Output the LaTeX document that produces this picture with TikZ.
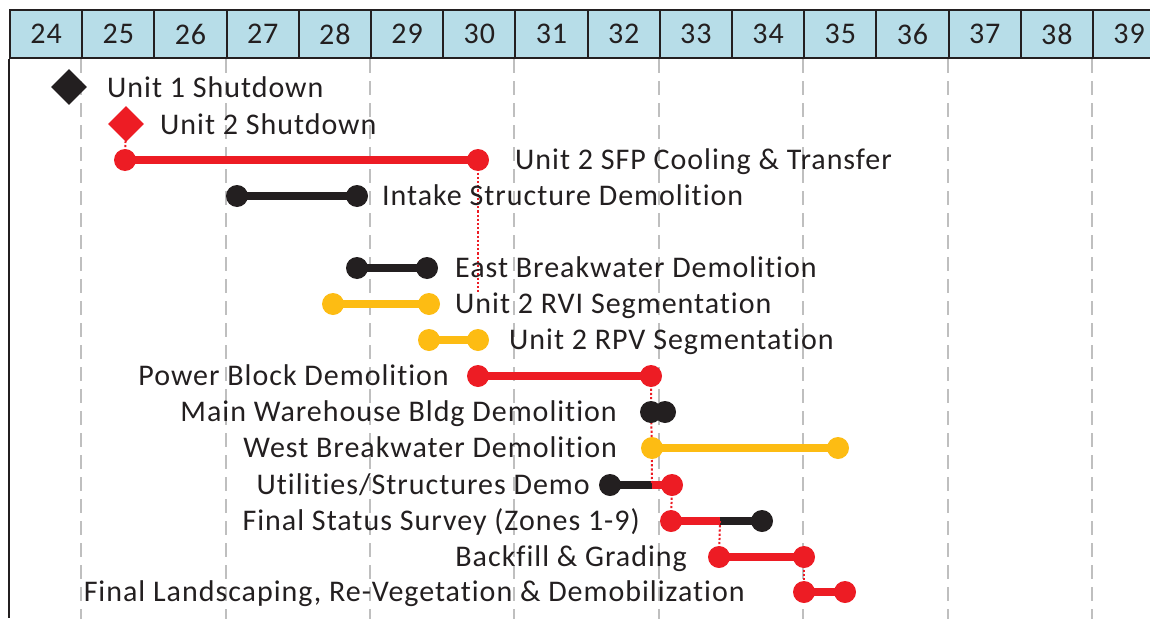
\documentclass[tikz,border=0pt]{standalone}
\usepackage{fontspec}
\setmainfont{Carlito}[LetterSpace=3.3, Ligatures=NoCommon, RawFeature={-liga;-dlig}]
\usetikzlibrary{shapes.geometric,backgrounds}
\definecolor{hdr}{HTML}{B7DDE8}
\definecolor{ink}{HTML}{231F20}
\definecolor{cred}{HTML}{ED1C24}
\definecolor{cyel}{HTML}{FDBC13}
\definecolor{cgray}{HTML}{BFBFBF}
\begin{document}
\begin{tikzpicture}[x=1pt,y=-1pt,
  lbl/.style={font=\fontsize{30}{36}\selectfont, text=ink, inner sep=0pt,
              text height=22pt, text depth=2.6pt},
  week/.style={draw=ink, line width=2pt, fill=hdr, minimum width=72.2pt,
               minimum height=48pt, inner sep=0pt, anchor=north west,
               text=ink, font=\fontsize{30}{36}\selectfont},
  dot/.style={circle, fill=#1, inner sep=0pt, minimum size=22pt},
  bar/.style={line width=7.5pt, draw=#1},
  link/.style={draw=cred, line width=2pt, dash pattern=on 2.2pt off 2pt},
  gridline/.style={draw=cgray, line width=2pt, dash pattern=on 14pt off 8pt},
  ms/.style={diamond, aspect=1, fill=#1, inner sep=0pt, minimum size=36pt},
]
\useasboundingbox (0,0) rectangle (1150,618);
\clip (0,0) rectangle (1150,618);

% week header
\foreach \w [count=\i from 0] in {24,...,39}
  \node[week] (h\w) at ({9+72.2*\i},9) {\w};

% dashed week lines and left frame
\begin{pgfonlayer}{background}
  \foreach \w in {25,27,...,39}
    \draw[gridline] (h\w.south west) -- ++(0,561);
\end{pgfonlayer}
\draw[ink, line width=2pt] (h24.south west) -- (9,618);

% milestones
\node[ms=ink]  (m1) at (69,87)  {};
\node[lbl, anchor=west] (l1) at (107,88) {Unit 1 Shutdown};
\node[ms=cred] (m2) at (126,124) {};
\node[lbl, anchor=west] (l2) at (160,125) {Unit 2 Shutdown};

% activity end points
\node[dot=cred] (sfpA) at (125,160) {};
\node[dot=cred] (sfpB) at (478,160) {};
\node[dot=ink]  (intA) at (237,196) {};
\node[dot=ink]  (intB) at (357,196) {};
\node[dot=ink]  (ebwA) at (357,268) {};
\node[dot=ink]  (ebwB) at (427,268) {};
\node[dot=cyel] (rviA) at (333,304) {};
\node[dot=cyel] (rviB) at (429,304) {};
\node[dot=cyel] (rpvA) at (429,340) {};
\node[dot=cyel] (rpvB) at (478,340) {};
\node[dot=cred] (pbA)  at (478,376) {};
\node[dot=cred] (pbB)  at (651,376) {};
\node[dot=ink]  (mwA)  at (651,412) {};
\node[dot=ink]  (mwB)  at (665,412) {};
\node[dot=cyel] (wbwA) at (652,448) {};
\node[dot=cyel] (wbwB) at (838,448) {};
\node[dot=ink]  (utA)  at (610,485) {};
\coordinate     (utM)  at (652,485);
\node[dot=cred] (utB)  at (672,485) {};
\node[dot=cred] (fsA)  at (671,521) {};
\coordinate     (fsM)  at (720,521);
\node[dot=ink]  (fsB)  at (762,521) {};
\node[dot=cred] (bfA)  at (719,557) {};
\node[dot=cred] (bfB)  at (804,557) {};
\node[dot=cred] (lsA)  at (804,592) {};
\node[dot=cred] (lsB)  at (845,592) {};
\coordinate (sfpDrop) at (478,292);

% bars and dependency links, behind the end points
\begin{pgfonlayer}{background}
  \draw[bar=cred] (sfpA.center) -- (sfpB.center);
  \draw[bar=ink]  (intA.center) -- (intB.center);
  \draw[bar=ink]  (ebwA.center) -- (ebwB.center);
  \draw[bar=cyel] (rviA.center) -- (rviB.center);
  \draw[bar=cyel] (rpvA.center) -- (rpvB.center);
  \draw[bar=cred] (pbA.center)  -- (pbB.center);
  \draw[bar=ink]  (mwA.center)  -- (mwB.center);
  \draw[bar=cyel] (wbwA.center) -- (wbwB.center);
  \draw[bar=ink]  (utA.center)  -- (utM);
  \draw[bar=cred] (utM)         -- (utB.center);
  \draw[bar=cred] (fsA.center)  -- (fsM);
  \draw[bar=ink]  (fsM)         -- (fsB.center);
  \draw[bar=cred] (bfA.center)  -- (bfB.center);
  \draw[bar=cred] (lsA.center)  -- (lsB.center);

  \draw[link] (m2.center)   -- (sfpA.center);
  \draw[link] (sfpB.center) -- (sfpDrop);
  \draw[link] (pbB.center)  -- (utM);
  \draw[link] (utB.center)  -- (fsA.center);
  \draw[link] (fsM)         -- (bfA.center);
  \draw[link] (bfB.center)  -- (lsA.center);
\end{pgfonlayer}

% activity labels
\node[lbl, anchor=west] (lsfp) at (515,160) {Unit 2 SFP Cooling \& Transfer};
\node[lbl, anchor=west] (lint) at (382,196) {Intake Structure Demolition};
\node[lbl, anchor=west] (lebw) at (455,268) {East Breakwater Demolition};
\node[lbl, anchor=west] (lrvi) at (455,304) {Unit 2 RVI Segmentation};
\node[lbl, anchor=west] (lrpv) at (509,340) {Unit 2 RPV Segmentation};
\node[lbl, anchor=east] (lpb)  at (449,376) {Power Block Demolition};
\node[lbl, anchor=east] (lmw)  at (617,412) {Main Warehouse Bldg Demolition};
\node[lbl, anchor=east] (lwbw) at (617,448) {West Breakwater Demolition};
\node[lbl, anchor=east] (lut)  at (590,485) {Utilities/Structures Demo};
\node[lbl, anchor=east] (lfs)  at (640,521) {Final Status Survey (Zones 1-9)};
\node[lbl, anchor=east] (lbf)  at (687,557) {Backfill \& Grading};
\node[lbl, anchor=east] (lls)  at (745,592) {Final Landscaping, Re-Vegetation \& Demobilization};
\end{tikzpicture}
\end{document}
